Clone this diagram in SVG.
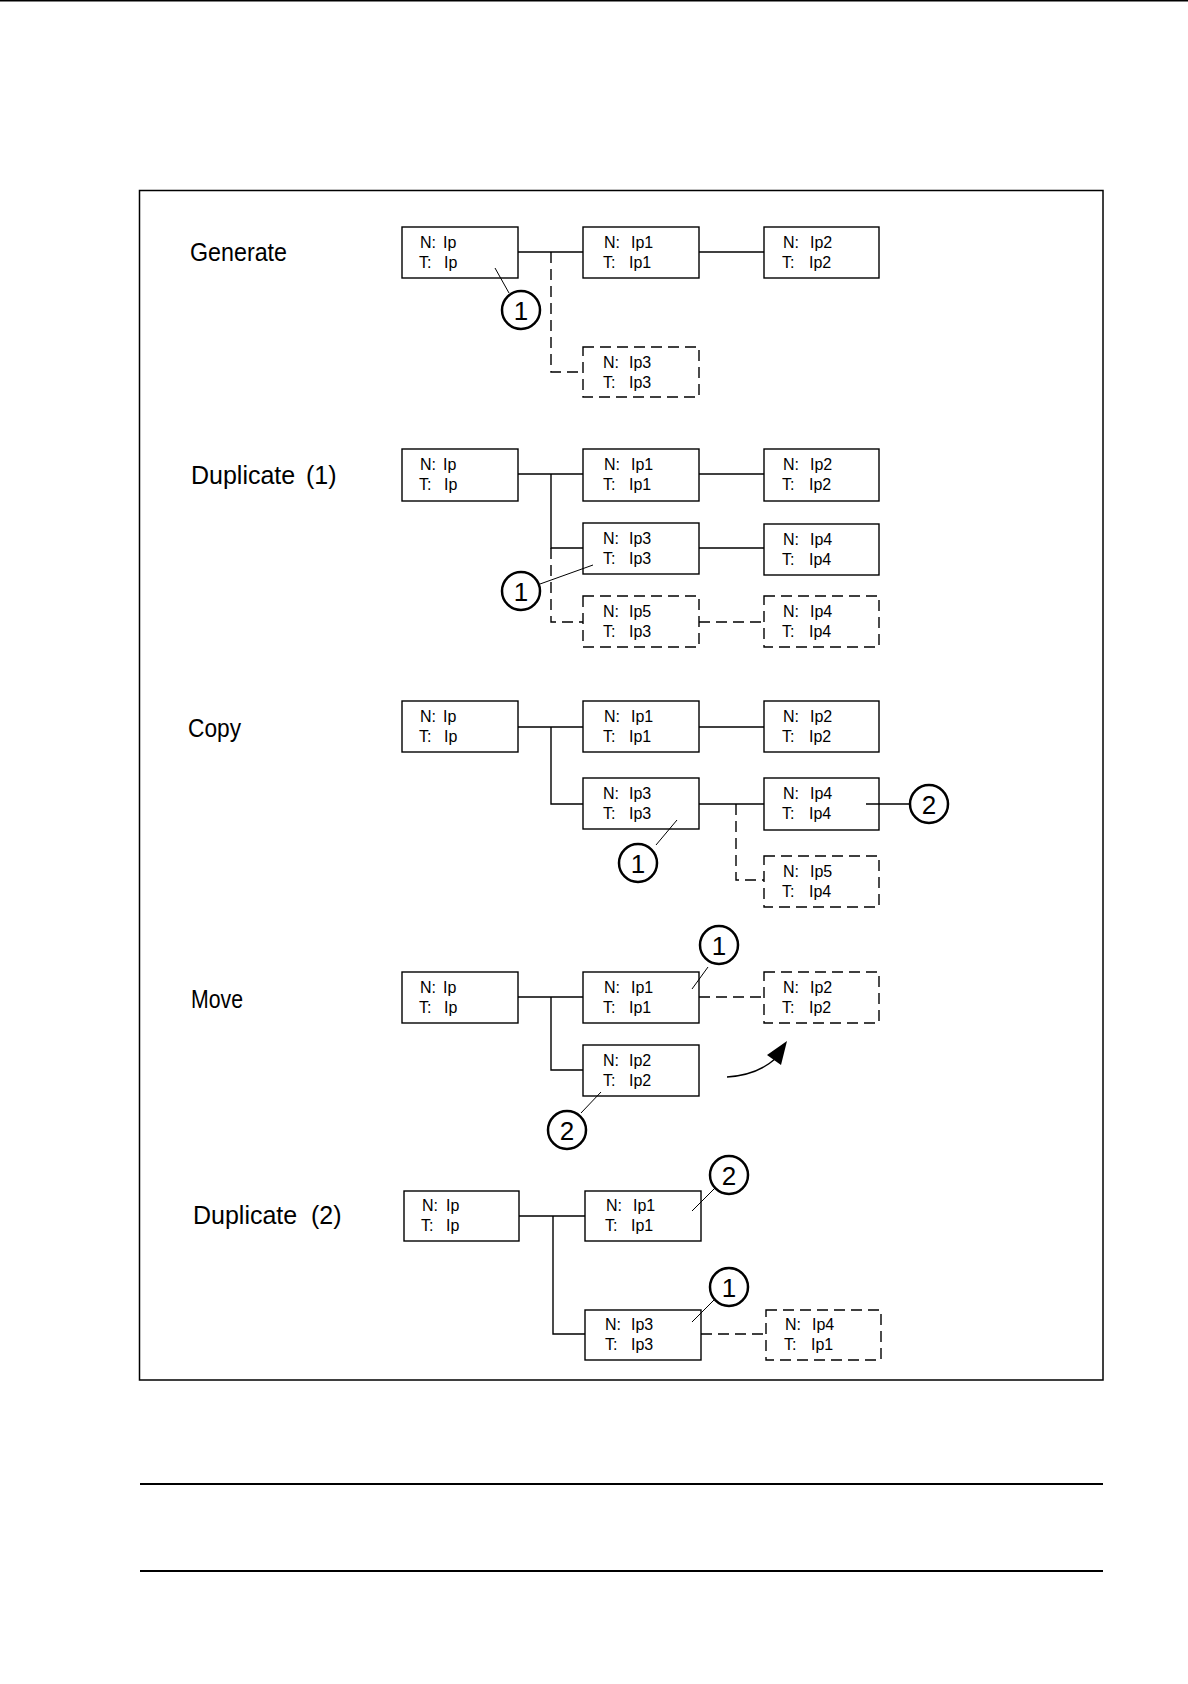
<svg xmlns="http://www.w3.org/2000/svg" width="1188" height="1684" viewBox="0 0 1188 1684">
<style>
.bx{fill:#fff;stroke:#000;stroke-width:1.4}
.dbx{fill:#fff;stroke:#000;stroke-width:1.4;stroke-dasharray:11 6}
.ln{fill:none;stroke:#000;stroke-width:1.4}
.dln{fill:none;stroke:#000;stroke-width:1.4;stroke-dasharray:11 6}
.ld{fill:none;stroke:#000;stroke-width:1}
.cr{fill:#fff;stroke:#000;stroke-width:2.5}
.t{font-family:"Liberation Sans",Arial,sans-serif;font-size:16px;fill:#000}
.lb{font-family:"Liberation Sans",Arial,sans-serif;font-size:25px;fill:#000}
.cn{font-family:"Liberation Sans",Arial,sans-serif;font-size:26px;fill:#000;text-anchor:middle}
</style>
<rect width="1188" height="1684" fill="#fff"/>
<line x1="0" y1="0.75" x2="1188" y2="0.75" stroke="#000" stroke-width="1.5"/>
<rect x="139.5" y="190.5" width="963.5" height="1189.5" fill="none" stroke="#000" stroke-width="1.5"/>
<line x1="140" y1="1484" x2="1103" y2="1484" stroke="#000" stroke-width="1.8"/>
<line x1="140" y1="1571" x2="1103" y2="1571" stroke="#000" stroke-width="1.8"/>

<g id="labels">
<text class="lb" x="190" y="261" textLength="97" lengthAdjust="spacingAndGlyphs">Generate</text>
<text class="lb" x="191" y="484">Duplicate<tspan x="306">(1)</tspan></text>
<text class="lb" x="188" y="737" textLength="53" lengthAdjust="spacingAndGlyphs">Copy</text>
<text class="lb" x="191" y="1008" textLength="52" lengthAdjust="spacingAndGlyphs">Move</text>
<text class="lb" x="193" y="1224">Duplicate<tspan x="311">(2)</tspan></text>
</g>

<g id="connectors">
<line class="ln" x1="518" y1="252" x2="583" y2="252"/>
<line class="ln" x1="699" y1="252" x2="764" y2="252"/>
<polyline class="dln" points="551,252 551,372 583,372"/>
<line class="ln" x1="518" y1="474" x2="583" y2="474"/>
<line class="ln" x1="699" y1="474" x2="764" y2="474"/>
<polyline class="ln" points="551,474 551,548 583,548"/>
<line class="ln" x1="699" y1="548" x2="764" y2="548"/>
<polyline class="dln" points="551,548 551,622 583,622"/>
<line class="dln" x1="699" y1="622" x2="764" y2="622"/>
<line class="ln" x1="518" y1="727" x2="583" y2="727"/>
<line class="ln" x1="699" y1="727" x2="764" y2="727"/>
<polyline class="ln" points="551,727 551,804 583,804"/>
<line class="ln" x1="699" y1="804" x2="764" y2="804"/>
<polyline class="dln" points="736,804 736,880 764,880"/>
<line class="ln" x1="518" y1="997" x2="583" y2="997"/>
<polyline class="ln" points="551,997 551,1070 583,1070"/>
<line class="dln" x1="699" y1="997" x2="764" y2="997"/>
<path class="ln" d="M727,1077 Q757,1075 775,1059"/>
<polygon points="787,1041 767,1055 781,1065" fill="#000"/>
<line class="ln" x1="519" y1="1216" x2="585" y2="1216"/>
<polyline class="ln" points="553,1216 553,1334 585,1334"/>
<line class="dln" x1="701" y1="1334" x2="766" y2="1334"/>
</g>

<g id="g-ip"><rect class="bx" x="402" y="227" width="116" height="51"/>
<text class="t" x="420" y="248">N:<tspan x="443">Ip</tspan></text><text class="t" x="419" y="268">T:<tspan x="444">Ip</tspan></text></g>
<g id="g-ip1"><rect class="bx" x="583" y="227" width="116" height="51"/>
<text class="t" x="604" y="248">N:<tspan x="631">Ip1</tspan></text><text class="t" x="603" y="268">T:<tspan x="629">Ip1</tspan></text></g>
<g id="g-ip2"><rect class="bx" x="764" y="227" width="115" height="51"/>
<text class="t" x="783" y="248">N:<tspan x="810">Ip2</tspan></text><text class="t" x="782" y="268">T:<tspan x="809">Ip2</tspan></text></g>
<g id="g-ip3"><rect class="dbx" x="583" y="347" width="116" height="50"/>
<text class="t" x="603" y="368">N:<tspan x="629">Ip3</tspan></text><text class="t" x="603" y="388">T:<tspan x="629">Ip3</tspan></text></g>
<g id="g-c1"><line class="ld" x1="495" y1="268" x2="509" y2="293"/><circle class="cr" cx="521" cy="310" r="19"/><text class="cn" x="521" y="320">1</text></g>

<g id="d1-ip"><rect class="bx" x="402" y="449" width="116" height="52"/>
<text class="t" x="420" y="470">N:<tspan x="443">Ip</tspan></text><text class="t" x="419" y="490">T:<tspan x="444">Ip</tspan></text></g>
<g id="d1-ip1"><rect class="bx" x="583" y="449" width="116" height="52"/>
<text class="t" x="604" y="470">N:<tspan x="631">Ip1</tspan></text><text class="t" x="603" y="490">T:<tspan x="629">Ip1</tspan></text></g>
<g id="d1-ip2"><rect class="bx" x="764" y="449" width="115" height="52"/>
<text class="t" x="783" y="470">N:<tspan x="810">Ip2</tspan></text><text class="t" x="782" y="490">T:<tspan x="809">Ip2</tspan></text></g>
<g id="d1-ip3"><rect class="bx" x="583" y="523" width="116" height="51"/>
<text class="t" x="603" y="544">N:<tspan x="629">Ip3</tspan></text><text class="t" x="603" y="564">T:<tspan x="629">Ip3</tspan></text></g>
<g id="d1-ip4"><rect class="bx" x="764" y="524" width="115" height="51"/>
<text class="t" x="783" y="545">N:<tspan x="810">Ip4</tspan></text><text class="t" x="782" y="565">T:<tspan x="809">Ip4</tspan></text></g>
<g id="d1-ip5"><rect class="dbx" x="583" y="596" width="116" height="51"/>
<text class="t" x="603" y="617">N:<tspan x="629">Ip5</tspan></text><text class="t" x="603" y="637">T:<tspan x="629">Ip3</tspan></text></g>
<g id="d1-ip4b"><rect class="dbx" x="764" y="596" width="115" height="51"/>
<text class="t" x="783" y="617">N:<tspan x="810">Ip4</tspan></text><text class="t" x="782" y="637">T:<tspan x="809">Ip4</tspan></text></g>
<g id="d1-c1"><line class="ld" x1="540" y1="584" x2="593" y2="565"/><circle class="cr" cx="521" cy="591" r="19"/><text class="cn" x="521" y="601">1</text></g>

<g id="c-ip"><rect class="bx" x="402" y="701" width="116" height="51"/>
<text class="t" x="420" y="722">N:<tspan x="443">Ip</tspan></text><text class="t" x="419" y="742">T:<tspan x="444">Ip</tspan></text></g>
<g id="c-ip1"><rect class="bx" x="583" y="701" width="116" height="51"/>
<text class="t" x="604" y="722">N:<tspan x="631">Ip1</tspan></text><text class="t" x="603" y="742">T:<tspan x="629">Ip1</tspan></text></g>
<g id="c-ip2"><rect class="bx" x="764" y="701" width="115" height="51"/>
<text class="t" x="783" y="722">N:<tspan x="810">Ip2</tspan></text><text class="t" x="782" y="742">T:<tspan x="809">Ip2</tspan></text></g>
<g id="c-ip3"><rect class="bx" x="583" y="778" width="116" height="51"/>
<text class="t" x="603" y="799">N:<tspan x="629">Ip3</tspan></text><text class="t" x="603" y="819">T:<tspan x="629">Ip3</tspan></text></g>
<g id="c-ip4"><rect class="bx" x="764" y="778" width="115" height="52"/>
<text class="t" x="783" y="799">N:<tspan x="810">Ip4</tspan></text><text class="t" x="782" y="819">T:<tspan x="809">Ip4</tspan></text></g>
<g id="c-ip5"><rect class="dbx" x="764" y="856" width="115" height="51"/>
<text class="t" x="783" y="877">N:<tspan x="810">Ip5</tspan></text><text class="t" x="782" y="897">T:<tspan x="809">Ip4</tspan></text></g>
<g id="c-c1"><line class="ld" x1="656" y1="845" x2="677" y2="820"/><circle class="cr" cx="638" cy="863" r="19"/><text class="cn" x="638" y="873">1</text></g>
<g id="c-c2"><line class="ln" x1="866" y1="804" x2="910" y2="804"/><circle class="cr" cx="929" cy="804" r="19"/><text class="cn" x="929" y="814">2</text></g>

<g id="m-ip"><rect class="bx" x="402" y="972" width="116" height="51"/>
<text class="t" x="420" y="993">N:<tspan x="443">Ip</tspan></text><text class="t" x="419" y="1013">T:<tspan x="444">Ip</tspan></text></g>
<g id="m-ip1"><rect class="bx" x="583" y="972" width="116" height="51"/>
<text class="t" x="604" y="993">N:<tspan x="631">Ip1</tspan></text><text class="t" x="603" y="1013">T:<tspan x="629">Ip1</tspan></text></g>
<g id="m-ip2d"><rect class="dbx" x="764" y="972" width="115" height="51"/>
<text class="t" x="783" y="993">N:<tspan x="810">Ip2</tspan></text><text class="t" x="782" y="1013">T:<tspan x="809">Ip2</tspan></text></g>
<g id="m-ip2"><rect class="bx" x="583" y="1045" width="116" height="51"/>
<text class="t" x="603" y="1066">N:<tspan x="629">Ip2</tspan></text><text class="t" x="603" y="1086">T:<tspan x="629">Ip2</tspan></text></g>
<g id="m-c1"><line class="ld" x1="692" y1="989" x2="708" y2="967"/><circle class="cr" cx="719" cy="945" r="19"/><text class="cn" x="719" y="955">1</text></g>
<g id="m-c2"><line class="ld" x1="581" y1="1113" x2="601" y2="1092"/><circle class="cr" cx="567" cy="1130" r="19"/><text class="cn" x="567" y="1140">2</text></g>

<g id="d2-ip"><rect class="bx" x="404" y="1191" width="115" height="50"/>
<text class="t" x="422" y="1211">N:<tspan x="446">Ip</tspan></text><text class="t" x="421" y="1231">T:<tspan x="446">Ip</tspan></text></g>
<g id="d2-ip1"><rect class="bx" x="585" y="1191" width="116" height="50"/>
<text class="t" x="606" y="1211">N:<tspan x="633">Ip1</tspan></text><text class="t" x="605" y="1231">T:<tspan x="631">Ip1</tspan></text></g>
<g id="d2-ip3"><rect class="bx" x="585" y="1310" width="116" height="50"/>
<text class="t" x="605" y="1330">N:<tspan x="631">Ip3</tspan></text><text class="t" x="605" y="1350">T:<tspan x="631">Ip3</tspan></text></g>
<g id="d2-ip4"><rect class="dbx" x="766" y="1310" width="115" height="50"/>
<text class="t" x="785" y="1330">N:<tspan x="812">Ip4</tspan></text><text class="t" x="784" y="1350">T:<tspan x="811">Ip1</tspan></text></g>
<g id="d2-c2"><line class="ld" x1="692" y1="1211" x2="715" y2="1188"/><circle class="cr" cx="729" cy="1175" r="19"/><text class="cn" x="729" y="1185">2</text></g>
<g id="d2-c1"><line class="ld" x1="692" y1="1322" x2="715" y2="1299"/><circle class="cr" cx="729" cy="1287" r="19"/><text class="cn" x="729" y="1297">1</text></g>
</svg>
